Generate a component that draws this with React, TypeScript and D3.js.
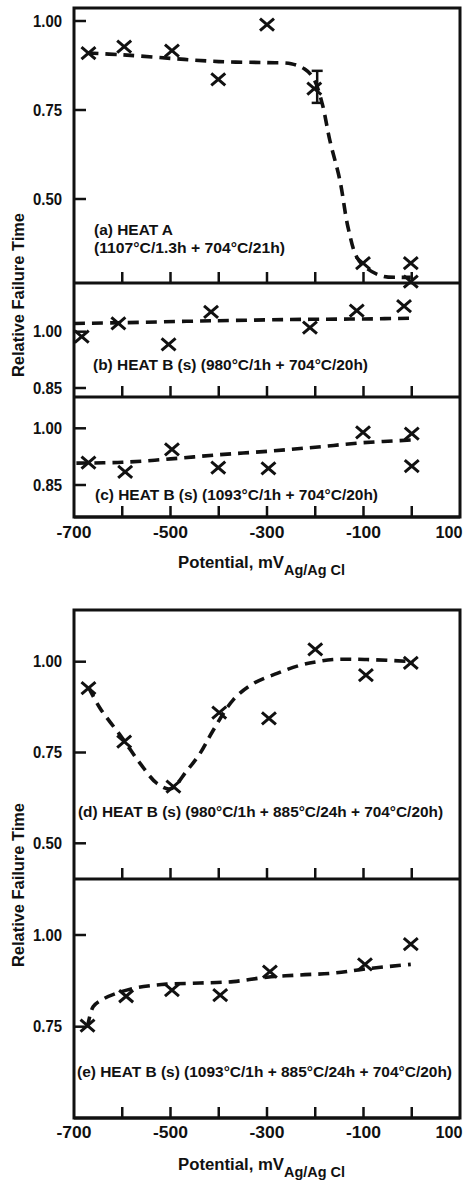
import React from "react";
import * as d3 from "d3";

// ---------- DATA ----------
const xTickLabels = [-700, -500, -300, -100, 100];
const xInnerTicks = [-600, -500, -400, -300, -200, -100, 0];

// Panel (a) HEAT A
const aPts: [number, number][] = [
  [-670, 0.91], [-596, 0.928], [-497, 0.917], [-401, 0.836], [-300, 0.99],
  [-202, 0.81], [-101, 0.32], [-2, 0.32], [-2, 0.268],
];
const aErr = { x: -196, lo: 0.77, hi: 0.86 };
const aCurve: [number, number][] = [
  [-672, 0.91], [-600, 0.905], [-500, 0.895], [-400, 0.886], [-300, 0.883],
  [-250, 0.88], [-222, 0.865], [-204, 0.84], [-186, 0.77], [-170, 0.666],
  [-149, 0.553], [-132, 0.42], [-114, 0.337], [-94, 0.306], [-60, 0.283],
  [-24, 0.28], [-2, 0.28],
];
const aTicks = [1.0, 0.75, 0.5];

// Panel (b)
const bPts: [number, number][] = [
  [-684, 0.987], [-608, 1.022], [-504, 0.966], [-416, 1.053], [-211, 1.011],
  [-114, 1.056], [-16, 1.068],
];
const bCurve: [number, number][] = [
  [-700, 1.022], [-600, 1.024], [-415, 1.029], [-211, 1.033], [-98, 1.034], [6, 1.036],
];
const bTicks = [1.0, 0.85];

// Panel (c)
const cPts: [number, number][] = [
  [-670, 0.909], [-594, 0.885], [-497, 0.944], [-401, 0.896], [-297, 0.894],
  [-101, 0.989], [0, 0.986], [0, 0.9],
];
const cCurve: [number, number][] = [
  [-695, 0.908], [-600, 0.91], [-500, 0.919], [-400, 0.93], [-300, 0.939],
  [-200, 0.95], [-100, 0.962], [0, 0.969],
];
const cTicks = [1.0, 0.85];

// Panel (d)
const dPts: [number, number][] = [
  [-670, 0.927], [-596, 0.78], [-494, 0.656], [-399, 0.86], [-296, 0.844],
  [-200, 1.034], [-95, 0.963], [-2, 0.997],
];
const dCurve: [number, number][] = [
  [-670, 0.93], [-646, 0.872], [-600, 0.79], [-563, 0.72], [-528, 0.665],
  [-500, 0.65], [-466, 0.7], [-439, 0.747], [-412, 0.81], [-370, 0.895],
  [-328, 0.94], [-279, 0.968], [-232, 0.99], [-197, 1.0], [-163, 1.006],
  [-93, 1.006], [4, 1.0],
];
const dTicks = [1.0, 0.75, 0.5];

// Panel (e)
const ePts: [number, number][] = [
  [-672, 0.753], [-592, 0.833], [-497, 0.85], [-397, 0.836], [-294, 0.9],
  [-97, 0.92], [-2, 0.975],
];
const eCurve: [number, number][] = [
  [-672, 0.748], [-660, 0.805], [-640, 0.825], [-610, 0.842], [-575, 0.855],
  [-540, 0.862], [-508, 0.866], [-439, 0.869], [-370, 0.873], [-300, 0.885],
  [-232, 0.891], [-163, 0.896], [-93, 0.908], [-2, 0.92],
];
const eTicks = [1.0, 0.75];

// ---------- LAYOUT ----------
const W = 468, H = 1181;
const L = 74, R = 460;
const x = d3.scaleLinear().domain([-700, 100]).range([L, R]);
const font = "'Liberation Sans', Arial, Helvetica, sans-serif";

type Panel = {
  top: number; bottom: number;
  y: d3.ScaleLinear<number, number>;
  pts: [number, number][]; curve: [number, number][]; ticks: number[];
  labels: { text: string; x: number; y: number; w: number }[];
};

const panels: Panel[] = [
  {
    top: 8, bottom: 283, y: d3.scaleLinear().domain([0.5, 1.0]).range([199, 21]),
    pts: aPts, curve: aCurve, ticks: aTicks,
    labels: [
      { text: "(a) HEAT A", x: 94, y: 235, w: 79 },
      { text: "(1107°C/1.3h + 704°C/21h)", x: 94, y: 253, w: 191 },
    ],
  },
  {
    top: 283, bottom: 397, y: d3.scaleLinear().domain([0.85, 1.0]).range([388, 331.7]),
    pts: bPts, curve: bCurve, ticks: bTicks,
    labels: [{ text: "(b) HEAT B (s) (980°C/1h + 704°C/20h)", x: 93, y: 370, w: 275 }],
  },
  {
    top: 397, bottom: 517, y: d3.scaleLinear().domain([0.85, 1.0]).range([485, 428.3]),
    pts: cPts, curve: cCurve, ticks: cTicks,
    labels: [{ text: "(c) HEAT B (s) (1093°C/1h + 704°C/20h)", x: 95, y: 500, w: 283 }],
  },
  {
    top: 610, bottom: 879, y: d3.scaleLinear().domain([0.5, 1.0]).range([843.3, 661.7]),
    pts: dPts, curve: dCurve, ticks: dTicks,
    labels: [{ text: "(d) HEAT B (s) (980°C/1h + 885°C/24h + 704°C/20h)", x: 78, y: 817, w: 365 }],
  },
  {
    top: 879, bottom: 1118, y: d3.scaleLinear().domain([0.75, 1.0]).range([1026.7, 935]),
    pts: ePts, curve: eCurve, ticks: eTicks,
    labels: [{ text: "(e) HEAT B (s) (1093°C/1h + 885°C/24h + 704°C/20h)", x: 77, y: 1077, w: 375 }],
  },
];

const figures = [
  { top: 8, bottom: 517, labelY: 538, titleY: 568, yLabelCenter: 295 },
  { top: 610, bottom: 1118, labelY: 1138, titleY: 1170, yLabelCenter: 885 },
];

function Cross({ cx, cy }: { cx: number; cy: number }) {
  const hw = 7, hh = 6;
  return (
    <path
      d={`M${cx - hw},${cy - hh}L${cx + hw},${cy + hh}M${cx - hw},${cy + hh}L${cx + hw},${cy - hh}`}
      stroke="#111" strokeWidth={3} fill="none"
    />
  );
}

export default function App() {
  return (
    <svg width={W} height={H} style={{ position: "absolute", left: 0, top: 0, background: "#fff" }}
      fontFamily={font} fontWeight="bold">
      <rect x={0} y={0} width={W} height={H} fill="#fff" />
      {figures.map((f, i) => (
        <g key={"f" + i}>
          <rect x={L} y={f.top} width={R - L} height={f.bottom - f.top} fill="none" stroke="#111" strokeWidth={3} />
          {xTickLabels.map((v) => (
            <text key={v} x={Math.min(x(v), W - 19)} y={f.labelY} textAnchor="middle" fontSize={16}
              textLength={v === 100 ? 27 : 35} lengthAdjust="spacingAndGlyphs" fill="#111">
              {v}
            </text>
          ))}
          <text x={178} y={f.titleY} fontSize={16} fill="#111" textLength={106} lengthAdjust="spacingAndGlyphs">
            Potential, mV
          </text>
          <text x={284} y={f.titleY + 7} fontSize={14} fill="#111" textLength={61} lengthAdjust="spacingAndGlyphs">
            Ag/Ag Cl
          </text>
          <text transform={`translate(24,${f.yLabelCenter}) rotate(-90)`} textAnchor="middle" fontSize={16}
            fill="#111" textLength={164} lengthAdjust="spacingAndGlyphs">
            Relative Failure Time
          </text>
        </g>
      ))}
      {panels.map((p, i) => {
        const line = d3.line<[number, number]>()
          .x((d) => x(d[0]))
          .y((d) => p.y(d[1]))
          .curve(d3.curveCatmullRom.alpha(0.5));
        return (
          <g key={"p" + i}>
            <line x1={L} x2={R} y1={p.bottom} y2={p.bottom} stroke="#111" strokeWidth={3} />
            {xInnerTicks.map((v) => (
              <line key={v} x1={x(v)} x2={x(v)} y1={p.bottom} y2={p.bottom - 11} stroke="#111" strokeWidth={2.5} />
            ))}
            {p.ticks.map((t) => (
              <g key={t}>
                <line x1={L} x2={L + 12} y1={p.y(t)} y2={p.y(t)} stroke="#111" strokeWidth={2.5} />
                <text x={62} y={p.y(t) + 5.5} textAnchor="end" fontSize={16} fill="#111"
                  textLength={29} lengthAdjust="spacingAndGlyphs">
                  {t.toFixed(2)}
                </text>
              </g>
            ))}
            <path d={line(p.curve) || ""} fill="none" stroke="#111" strokeWidth={3.6}
              strokeDasharray="11 7" strokeLinecap="butt" />
            {p.pts.map((d, j) => (
              <Cross key={j} cx={x(d[0])} cy={p.y(d[1])} />
            ))}
            {p.labels.map((lb, j) => (
              <text key={j} x={lb.x} y={lb.y} fontSize={14} fill="#111" textLength={lb.w}
                lengthAdjust="spacingAndGlyphs">
                {lb.text}
              </text>
            ))}
          </g>
        );
      })}
      {/* error bar on panel (a) */}
      {(() => {
        const p = panels[0];
        const ex = x(aErr.x);
        const y1 = p.y(aErr.hi), y2 = p.y(aErr.lo);
        return (
          <g stroke="#111" strokeWidth={2.5}>
            <line x1={ex} x2={ex} y1={y1} y2={y2} />
            <line x1={ex - 5.5} x2={ex + 5.5} y1={y1} y2={y1} />
            <line x1={ex - 5.5} x2={ex + 5.5} y1={y2} y2={y2} />
          </g>
        );
      })()}
    </svg>
  );
}
